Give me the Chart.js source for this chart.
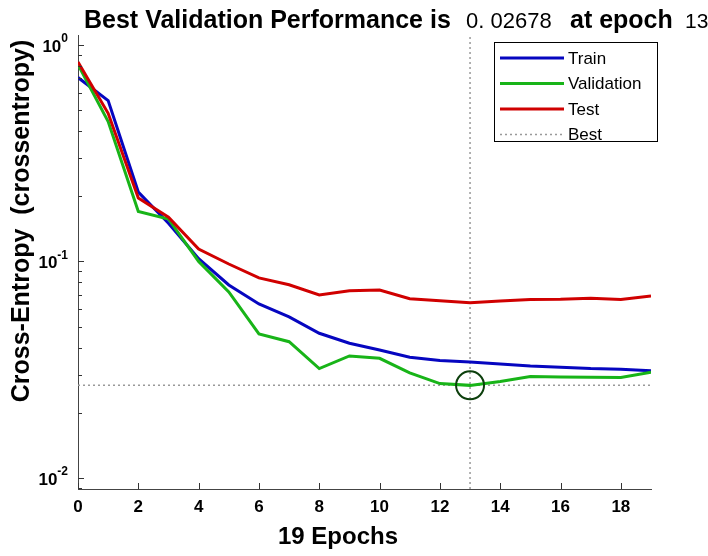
<!DOCTYPE html>
<html>
<head>
<meta charset="utf-8">
<script src="https://cdn.jsdelivr.net/npm/chart.js@4.4.0/dist/chart.umd.min.js"></script>
<style>
  html, body { margin: 0; padding: 0; background: #fff; }
  #grafica { display: block; }
</style>
</head>
<body>
<canvas id="grafica" width="708" height="556"></canvas>
<script>
// datos
const epocas = [0, 1, 2, 3, 4, 5, 6, 7, 8, 9, 10, 11, 12, 13, 14, 15, 16, 17, 18, 19];
const train = [0.706, 0.553, 0.209, 0.150, 0.103, 0.0779, 0.0636, 0.0555, 0.0466, 0.0419, 0.0390, 0.0361, 0.0349, 0.0343, 0.0336, 0.0329, 0.0325, 0.0320, 0.0318, 0.0313];
const validation = [0.81, 0.442, 0.170, 0.157, 0.100, 0.0723, 0.0463, 0.0426, 0.0320, 0.0366, 0.0357, 0.0306, 0.0273, 0.02678, 0.0279, 0.0294, 0.0293, 0.0292, 0.0291, 0.0308];
const test = [0.832, 0.483, 0.196, 0.160, 0.114, 0.0973, 0.0839, 0.078, 0.070, 0.0733, 0.0738, 0.0673, 0.0659, 0.0645, 0.0657, 0.0668, 0.0669, 0.0676, 0.0668, 0.0693];

const mejorEpoca = 13;
const mejorValor = 0.02678;

const ticksX = [0, 2, 4, 6, 8, 10, 12, 14, 16, 18];
const potenciasY = [0, -1, -2];

const yMin = 0.0089;
const yMax = 1.11;
const xMax = 19;

const FUENTE = "'Liberation Sans', Arial, sans-serif";

function puntos(valores) {
  return epocas.map((e, i) => ({ x: e, y: valores[i] }));
}

// titulo, ejes, ticks hacia dentro y leyenda
const decoracion = {
  id: 'decoracion',
  afterDraw(chart) {
    const ctx = chart.ctx;
    const { left, right, top, bottom } = chart.chartArea;
    const sx = chart.scales.x;
    const sy = chart.scales.y;
    ctx.save();

    // ticks menores y mayores del eje y
    ctx.strokeStyle = '#333';
    ctx.lineWidth = 1;
    for (let p = -3; p <= 0; p++) {
      for (let m = 1; m <= 9; m++) {
        const v = m * Math.pow(10, p);
        if (v < yMin || v > yMax) continue;
        const py = Math.round(sy.getPixelForValue(v)) + 0.5;
        ctx.beginPath();
        ctx.moveTo(left, py);
        ctx.lineTo(left + (m === 1 ? 6 : 4), py);
        ctx.stroke();
      }
    }
    // ticks del eje x
    ticksX.forEach(v => {
      const px = Math.round(sx.getPixelForValue(v)) + 0.5;
      ctx.beginPath();
      ctx.moveTo(px, bottom);
      ctx.lineTo(px, bottom - 6);
      ctx.stroke();
    });

    // etiquetas 10^n
    ctx.fillStyle = '#000';
    ctx.textBaseline = 'middle';
    potenciasY.forEach(p => {
      const py = sy.getPixelForValue(Math.pow(10, p));
      ctx.font = 'bold 12px ' + FUENTE;
      const exp = String(p);
      const wExp = ctx.measureText(exp).width;
      ctx.textAlign = 'right';
      ctx.fillText(exp, left - 10, py - 6);
      ctx.font = 'bold 17px ' + FUENTE;
      ctx.fillText('10', left - 10 - wExp, py + 2);
    });

    // titulo con partes en negrita y normales
    const partes = [
      { t: 'Best Validation Performance is', f: 'bold 25px ', x: 84 },
      { t: '0. 02678', f: '22px ', x: 466 },
      { t: 'at epoch', f: 'bold 25px ', x: 570 },
      { t: '13', f: '21px ', x: 685 }
    ];
    ctx.textBaseline = 'alphabetic';
    ctx.textAlign = 'left';
    partes.forEach(pt => {
      ctx.font = pt.f + FUENTE;
      ctx.fillText(pt.t, pt.x, 28);
    });

    // titulos de ejes
    ctx.font = 'bold 24px ' + FUENTE;
    ctx.textAlign = 'center';
    ctx.textBaseline = 'middle';
    ctx.fillText('19 Epochs', 338, 537);
    ctx.save();
    ctx.font = 'bold 25px ' + FUENTE;
    ctx.translate(22, 221);
    ctx.rotate(-Math.PI / 2);
    ctx.fillText('Cross-Entropy  (crossentropy)', 0, 0);
    ctx.restore();

    // leyenda
    const lx = 494, ly = 42, lw = 163, lh = 99;
    ctx.fillStyle = '#fff';
    ctx.fillRect(lx, ly, lw, lh);
    ctx.strokeStyle = '#000';
    ctx.lineWidth = 1;
    ctx.strokeRect(lx + 0.5, ly + 0.5, lw, lh);
    const entradas = chart.data.datasets.filter(ds => ds.enLeyenda);
    ctx.font = '17px ' + FUENTE;
    ctx.textAlign = 'left';
    ctx.textBaseline = 'middle';
    entradas.forEach((ds, i) => {
      const yy = ly + 16 + i * 25.5;
      ctx.beginPath();
      ctx.strokeStyle = ds.borderColor;
      ctx.lineWidth = ds.borderWidth;
      ctx.setLineDash(ds.borderDash || []);
      ctx.moveTo(lx + 6, yy);
      ctx.lineTo(lx + 70, yy);
      ctx.stroke();
      ctx.setLineDash([]);
      ctx.fillStyle = '#000';
      ctx.fillText(ds.label, lx + 74, yy + 1);
    });

    ctx.restore();
  }
};

new Chart(document.getElementById('grafica').getContext('2d'), {
  type: 'line',
  data: {
    datasets: [
      { label: 'Train', data: puntos(train), borderColor: '#0606c0', borderWidth: 3, pointRadius: 0, order: 2, enLeyenda: true },
      { label: 'Validation', data: puntos(validation), borderColor: '#18b418', borderWidth: 3, pointRadius: 0, order: 1, enLeyenda: true },
      { label: 'Test', data: puntos(test), borderColor: '#d00000', borderWidth: 3, pointRadius: 0, order: 0, enLeyenda: true },
      { label: 'Best', data: [{ x: 0, y: mejorValor }, { x: xMax, y: mejorValor }], borderColor: '#999', borderWidth: 1.5, borderDash: [2, 3], pointRadius: 0, order: 3, enLeyenda: true },
      { label: 'BestV', data: [{ x: mejorEpoca, y: yMin }, { x: mejorEpoca, y: yMax }], borderColor: '#999', borderWidth: 1.5, borderDash: [2, 3], pointRadius: 0, order: 3 },
      { label: 'Circulo', data: [{ x: mejorEpoca, y: mejorValor }], showLine: false, pointRadius: 14, pointBorderWidth: 2, pointBorderColor: '#0c3f0c', pointBackgroundColor: 'transparent', order: -1 }
    ]
  },
  options: {
    responsive: false,
    animation: false,
    events: [],
    layout: { padding: { left: 0, top: 35, right: 57, bottom: 0 } },
    plugins: {
      legend: { display: false },
      title: { display: false },
      tooltip: { enabled: false }
    },
    scales: {
      x: {
        type: 'linear',
        min: 0,
        max: xMax,
        grid: { display: false, drawTicks: false },
        border: { display: true, color: '#444', width: 1 },
        ticks: { color: '#000', font: { family: FUENTE, size: 17, weight: 'bold' }, padding: 8, maxRotation: 0 },
        afterBuildTicks: s => { s.ticks = ticksX.map(v => ({ value: v })); },
        afterFit: s => { s.height = 67; }
      },
      y: {
        type: 'logarithmic',
        min: yMin,
        max: yMax,
        grid: { display: false },
        border: { display: true, color: '#444', width: 1 },
        ticks: { display: false },
        afterFit: s => { s.width = 78; }
      }
    }
  },
  plugins: [decoracion]
});
</script>
</body>
</html>
